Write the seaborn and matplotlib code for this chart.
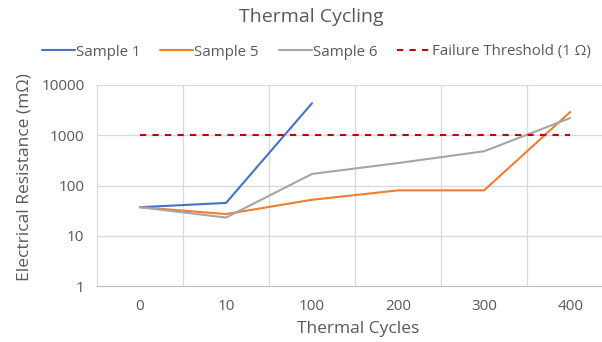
import numpy as np
import pandas as pd
import matplotlib
matplotlib.use("Agg")
import matplotlib.pyplot as plt
import seaborn as sns

# ======================================================
# Data
# ======================================================

cycles = ["0", "10", "100", "200", "300", "400"]

sample_1 = [37, 45, 4350, np.nan, np.nan, np.nan]
sample_5 = [37, 27, 52, 80, 80, 2900]
sample_6 = [37, 23, 170, 280, 480, 2200]
threshold = [1000, 1000, 1000, 1000, 1000, 1000]

series_names = ["Sample 1", "Sample 5", "Sample 6", "Failure Threshold (1 \u03a9)"]
colors = ["#4472C4", "#ED7D31", "#A5A5A5", "#C00000"]

rows = []
for name, vals in zip(series_names, [sample_1, sample_5, sample_6, threshold]):
    for i, v in enumerate(vals):
        rows.append({"idx": i, "value": v, "series": name})
df = pd.DataFrame(rows).dropna()

# ======================================================
# Plot
# ======================================================

sns.set_style("white")
plt.rcParams['font.family'] = ['Open Sans', 'DejaVu Sans']
text_color = "#595959"

fig = plt.figure(figsize=(6.02, 3.42), dpi=100)
ax = fig.add_axes([97/602, 1-286/342, 1-97/602, (286-85)/342])

sns.lineplot(
    data=df, x="idx", y="value", hue="series", style="series",
    hue_order=series_names, style_order=series_names,
    palette=colors,
    dashes={"Sample 1": "", "Sample 5": "", "Sample 6": "",
            series_names[3]: (3, 3)},
    linewidth=1.5, ax=ax, legend=False
)

ax.set_yscale("log")
ax.set_ylim(1, 10000)
ax.set_xlim(-0.5, 5.37)
ax.set_yticks([1, 10, 100, 1000, 10000])
ax.set_yticklabels(["1", "10", "100", "1000", "10000"])
ax.minorticks_off()
ax.set_xticks(range(len(cycles)))
ax.set_xticklabels(cycles)

for x in np.arange(0.5, 5.0, 1.0):
    ax.axvline(x, color="#D9D9D9", linewidth=0.9, zorder=0)
for y in [10, 100, 1000, 10000]:
    ax.axhline(y, color="#D9D9D9", linewidth=0.9, zorder=0)

for s in ["top", "right"]:
    ax.spines[s].set_visible(False)
ax.spines["left"].set_color("#D9D9D9")
ax.spines["bottom"].set_color("#BFBFBF")
ax.tick_params(axis="both", length=0, labelsize=11, colors=text_color)
ax.tick_params(axis="x", pad=9)
ax.tick_params(axis="y", pad=9)

ax.set_xlabel("Thermal Cycles", fontsize=12.5, color=text_color)
ax.xaxis.set_label_coords((358-97)/505, (286-329)/201)
ax.xaxis.label.set_va("center")
ax.set_ylabel("Electrical Resistance (m\u03a9)", fontsize=12.5, color=text_color)
ax.yaxis.set_label_coords((25-97)/505, (286-177)/201)
ax.yaxis.label.set_va("center")

fig.text(311/602, 1-17/342, "Thermal Cycling", ha="center", va="center",
         fontsize=14, color=text_color)

handles = [
    plt.Line2D([], [], color=colors[0], lw=1.5),
    plt.Line2D([], [], color=colors[1], lw=1.5),
    plt.Line2D([], [], color=colors[2], lw=1.5),
    plt.Line2D([], [], color=colors[3], lw=1.5, dashes=(3, 3)),
]
leg = fig.legend(handles, series_names, loc="center", bbox_to_anchor=(316/602, 1-52/342),
                 ncol=4, frameon=False, fontsize=10.8, handlelength=2.2,
                 handletextpad=0.1, columnspacing=1.3)
for t in leg.get_texts():
    t.set_color(text_color)

fig.savefig("out.png", dpi=100)
